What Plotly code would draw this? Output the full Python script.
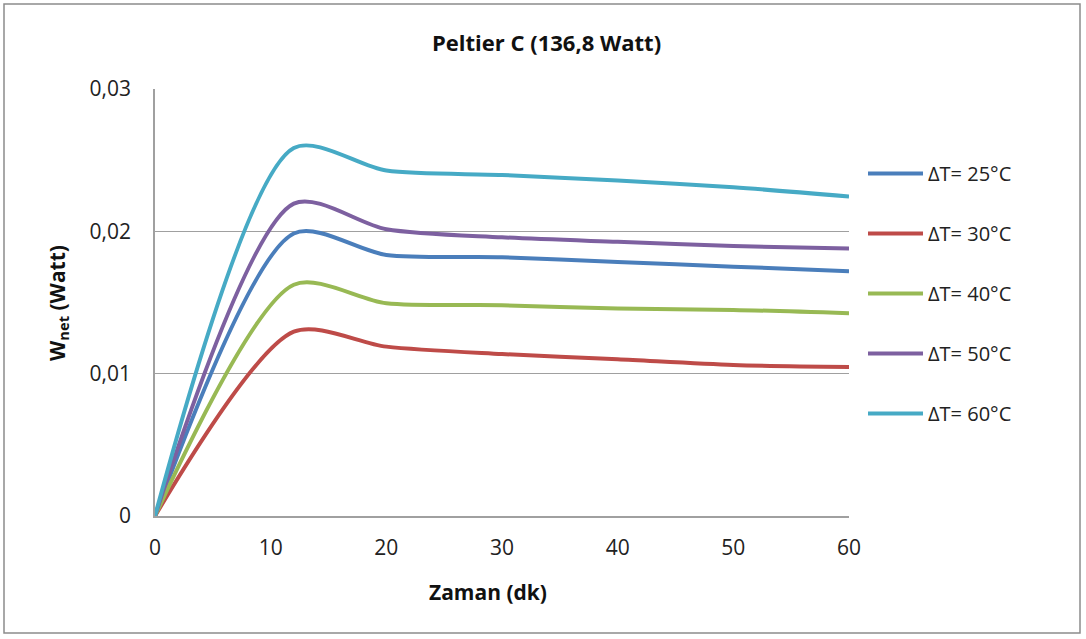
import plotly.graph_objects as go

time_min = [0, 12, 20, 30, 40, 50, 60]
dt25 = [0, 0.01985, 0.01834, 0.01818, 0.01785, 0.01752, 0.0172]
dt30 = [0, 0.01295, 0.0119, 0.01138, 0.01101, 0.01061, 0.01047]
dt40 = [0, 0.01625, 0.01495, 0.01481, 0.01457, 0.01448, 0.01424]
dt50 = [0, 0.02195, 0.02015, 0.01958, 0.01926, 0.01897, 0.01879]
dt60 = [0, 0.02585, 0.02427, 0.02396, 0.02357, 0.0231, 0.02244]

names = ["ΔT= 25°C", "ΔT= 30°C", "ΔT= 40°C", "ΔT= 50°C", "ΔT= 60°C"]
series = [dt25, dt30, dt40, dt50, dt60]
colors = ["#4A7EBB", "#BE4B48", "#98B954", "#7D60A0", "#46AAC5"]

y_ticks = [0, 0.01, 0.02, 0.03]
y_ticktext = ["0", "0,01", "0,02", "0,03"]
x_ticks = [0, 10, 20, 30, 40, 50, 60]

FONT = "Open Sans"
TXT = "#222222"

L, R, T, B = 155, 849, 89, 516
W, H = 1086, 639

fig = go.Figure()
for i, (name, ys, c) in enumerate(zip(names, series, colors)):
    fig.add_trace(go.Scatter(
        x=time_min, y=ys, name=name, mode="lines", legendgroup=f"g{i}",
        line=dict(color=c, width=4, shape="spline", smoothing=0.8),
    ))

def px_x(px):
    return (px - L) / (R - L)

def px_y(py):
    return (B - py) / (B - T)

fig.update_layout(
    width=W, height=H,
    margin=dict(l=L, r=W - R, t=T, b=H - B),
    paper_bgcolor="white", plot_bgcolor="white",
    font=dict(family=FONT, color=TXT),
    showlegend=True,
    legend=dict(x=px_x(863), y=px_y(154), xanchor="left", yanchor="top",
                font=dict(size=20, family=FONT, color=TXT),
                tracegroupgap=31, itemwidth=55, bgcolor="rgba(0,0,0,0)"),
    xaxis=dict(range=[0, 60], tickvals=x_ticks, ticktext=[str(v) for v in x_ticks],
               showgrid=False, showline=True, linecolor="#A0A0A0", linewidth=1.5,
               zeroline=False, ticks="", automargin=False,
               tickfont=dict(size=21, family=FONT, color=TXT),
               ticklabelstandoff=12),
    yaxis=dict(range=[0, 0.03], tickvals=y_ticks, ticktext=y_ticktext,
               showgrid=True, gridcolor="#A0A0A0", gridwidth=1,
               showline=True, linecolor="#A0A0A0", linewidth=1.5,
               zeroline=False, ticks="", automargin=False,
               tickfont=dict(size=21, family=FONT, color=TXT),
               ticklabelstandoff=18),
)

# chart title
fig.add_annotation(text="<b>Peltier C (136,8 Watt)</b>", xref="paper", yref="paper",
                   x=px_x(546), y=px_y(42), xanchor="center", yanchor="middle",
                   showarrow=False, font=dict(size=22, family=FONT, color="#111111"))
# axis titles
fig.add_annotation(text="<b>Zaman (dk)</b>", xref="paper", yref="paper",
                   x=px_x(488), y=px_y(592), xanchor="center", yanchor="middle",
                   showarrow=False, font=dict(size=21, family=FONT, color="#111111"))
fig.add_annotation(text="<b>W<sub>net</sub> (Watt)</b>", xref="paper", yref="paper",
                   x=px_x(58), y=px_y(303), xanchor="center", yanchor="middle",
                   textangle=-90, showarrow=False,
                   font=dict(size=21, family=FONT, color="#111111"))

# outer chart frame
fig.add_shape(type="rect", xref="paper", yref="paper",
              x0=px_x(4), x1=px_x(1080), y0=px_y(633), y1=px_y(4),
              line=dict(color="#8C8C8C", width=1.5), fillcolor="rgba(0,0,0,0)", layer="below")

fig.write_html("out.html", config={"displayModeBar": False},
               post_script="document.body.style.margin='0';")
